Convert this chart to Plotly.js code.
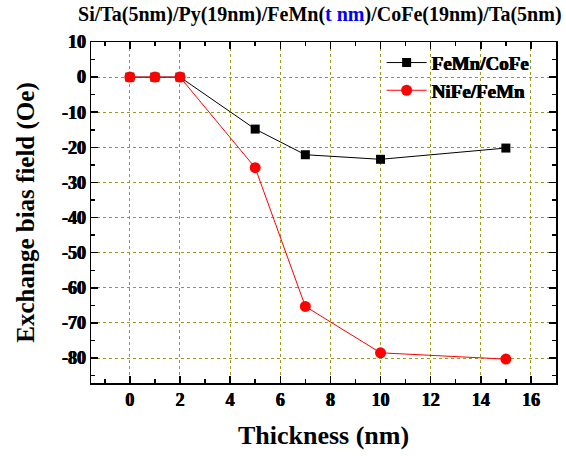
<!DOCTYPE html>
<html><head><meta charset="utf-8">
<script src="https://cdn.plot.ly/plotly-3.0.1.min.js"></script>
<style>body{margin:0;padding:0;background:#fff}#chart{width:566px;height:456px}</style>
</head><body><div id="chart"></div>
<script>
const thickness = [0, 1, 2, 5, 7, 10, 15];
const feMnCoFe = [0, 0, 0, -14.8, -22.1, -23.4, -20.2];
const niFeFeMn = [0, 0, 0, -25.8, -65.3, -78.5, -80.3];
const seriesNames = ['<b>FeMn/CoFe</b>', '<b>NiFe/FeMn</b>'];
const xTickVals = [0, 2, 4, 6, 8, 10, 12, 14, 16];
const yTickVals = [10, 0, -10, -20, -30, -40, -50, -60, -70, -80];

const font = {family: '"Liberation Serif", "Times New Roman", serif', color: '#000'};
const thick = '0.5px 0 0 #000, -0.3px 0 0 #000';
const traces = [
  {x: thickness, y: feMnCoFe, name: seriesNames[0], mode: 'lines+markers',
   line: {color: '#000', width: 1}, marker: {symbol: 'square', size: 9, color: '#000'}},
  {x: thickness, y: niFeFeMn, name: seriesNames[1], mode: 'lines+markers',
   line: {color: '#ff0000', width: 1}, marker: {symbol: 'circle', size: 11, color: '#ff0000'}}
];
const axisCommon = {
  showline: true, linecolor: '#000', linewidth: 1.5, mirror: 'ticks',
  ticks: 'inside', ticklen: 7, tickwidth: 1.5, tickcolor: '#000',
  showgrid: true, gridcolor: '#9a9a20', griddash: 'dot', gridwidth: 1,
  zeroline: false,
  tickfont: Object.assign({}, font, {size: 18, weight: 700, shadow: thick})
};
const layout = {
  width: 566, height: 456,
  margin: {l: 91, r: 10, t: 42, b: 73},
  paper_bgcolor: '#fff', plot_bgcolor: '#fff',
  font: font,
  title: {text: '<b>Si/Ta(5nm)/Py(19nm)/FeMn(<span style="color:#0000ff">t nm</span>)/CoFe(19nm)/Ta(5nm)</b>',
          font: Object.assign({}, font, {size: 20}), x: 0.565, xanchor: 'center', y: 0.97, yanchor: 'middle'},
  xaxis: Object.assign({}, axisCommon, {
    range: [-1.55, 17], tickvals: xTickVals, ticktext: xTickVals.map(String),
    minor: {ticks: 'inside', dtick: 1, tick0: 0, ticklen: 4, tickwidth: 1.5, tickcolor: '#000', showgrid: false},
    title: {text: '<b>Thickness (nm)</b>', font: Object.assign({}, font, {size: 26}), standoff: 16}
  }),
  yaxis: Object.assign({}, axisCommon, {
    range: [-87.1, 10], tickvals: yTickVals, ticktext: yTickVals.map(String),
    minor: {ticks: 'inside', dtick: 5, tick0: 0, ticklen: 4, tickwidth: 1.5, tickcolor: '#000', showgrid: false},
    title: {text: '<b>Exchange bias field (Oe)</b>', font: Object.assign({}, font, {size: 25}), standoff: 20}
  }),
  legend: {x: 0.625, y: 0.995, xanchor: 'left', yanchor: 'top', bgcolor: 'rgba(0,0,0,0)',
           font: Object.assign({}, font, {size: 19, shadow: thick}), tracegroupgap: 0, itemwidth: 40},
  showlegend: true
};
Plotly.newPlot('chart', traces, layout, {displayModeBar: false, staticPlot: true});
</script></body></html>
